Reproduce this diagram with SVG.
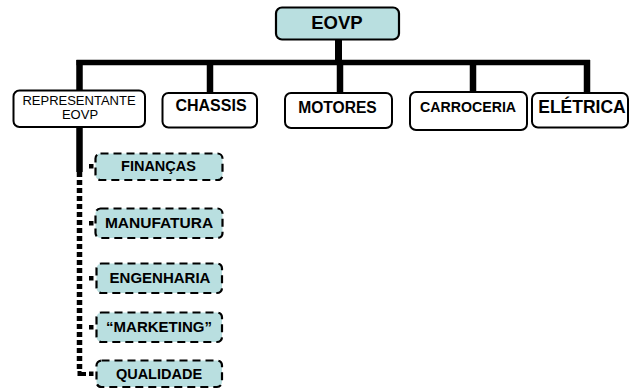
<svg xmlns="http://www.w3.org/2000/svg" width="640" height="392" viewBox="0 0 640 392">
<style>
.box{fill:#ffffff;stroke:#000;stroke-width:2}
.top{fill:#b9dfe0;stroke:#000;stroke-width:2.2}
.sub{fill:#b9dfe0;stroke:#000;stroke-width:2.2;stroke-dasharray:8 5}
.lbl{font-family:"Liberation Sans",Arial,sans-serif;font-weight:bold;fill:#000;text-anchor:middle}
.reg{font-family:"Liberation Sans",Arial,sans-serif;fill:#000;text-anchor:middle}
.ln{stroke:#000;fill:none}
</style>
<rect width="640" height="392" fill="#fff"/>
<g id="connectors">
<line class="ln" x1="338.5" y1="39" x2="338.5" y2="63" stroke-width="7"/>
<line class="ln" x1="76.5" y1="62.5" x2="590" y2="62.5" stroke-width="5.5"/>
<line class="ln" x1="79.5" y1="60" x2="79.5" y2="90" stroke-width="6.5"/>
<line class="ln" x1="210" y1="60" x2="210" y2="93" stroke-width="6.5"/>
<line class="ln" x1="340" y1="60" x2="340" y2="93" stroke-width="6.5"/>
<line class="ln" x1="473" y1="60" x2="473" y2="92" stroke-width="6.5"/>
<line class="ln" x1="587" y1="60" x2="587" y2="93" stroke-width="6.5"/>
<line class="ln" x1="79.5" y1="127" x2="79.5" y2="172" stroke-width="6.5"/>
<line class="ln" x1="79.5" y1="172" x2="79.5" y2="372" stroke-width="5.5" stroke-dasharray="5 3"/>
<path class="ln" d="M79.5 371 V374 H86" stroke-width="4"/>
<rect x="89" y="164" width="4.5" height="4.5"/>
<rect x="89" y="221" width="4.5" height="4.5"/>
<rect x="89" y="276" width="4.5" height="4.5"/>
<rect x="89" y="325" width="4.5" height="4.5"/>
<rect x="89" y="371.5" width="4.5" height="4.5"/>
</g>
<g id="n-eovp">
<rect class="top" x="276" y="7.5" width="123" height="32" rx="6"/>
<text class="lbl" x="337" y="28.5" font-size="18.5">EOVP</text>
</g>
<g id="n-representante">
<rect class="box" x="13.5" y="90.5" width="131.5" height="36.5" rx="6"/>
<text class="reg" x="79" y="105" font-size="13">REPRESENTANTE</text>
<text class="reg" x="80" y="119" font-size="13">EOVP</text>
</g>
<g id="n-chassis">
<rect class="box" x="162.5" y="93" width="94.5" height="34.5" rx="6"/>
<text class="lbl" x="211" y="111" font-size="16">CHASSIS</text>
</g>
<g id="n-motores">
<rect class="box" x="285" y="93" width="107" height="35" rx="6"/>
<text class="lbl" x="337.5" y="113" font-size="15.6">MOTORES</text>
</g>
<g id="n-carroceria">
<rect class="box" x="410" y="92" width="117" height="38" rx="6"/>
<text class="lbl" x="468" y="112" font-size="14.2">CARROCERIA</text>
</g>
<g id="n-eletrica">
<rect class="box" x="532" y="93" width="96" height="34.5" rx="6"/>
<text class="lbl" x="582" y="113" font-size="17.5">ELÉTRICA</text>
</g>
<g id="n-financas">
<rect class="sub" x="95.5" y="153.5" width="127" height="26.5" rx="5"/>
<text class="lbl" x="158.5" y="171" font-size="14.5">FINANÇAS</text>
</g>
<g id="n-manufatura">
<rect class="sub" x="95.5" y="208.5" width="127" height="29.5" rx="5"/>
<text class="lbl" x="159" y="227.5" font-size="15.5">MANUFATURA</text>
</g>
<g id="n-engenharia">
<rect class="sub" x="96.5" y="263.5" width="125.5" height="29.5" rx="5"/>
<text class="lbl" x="160" y="283" font-size="15">ENGENHARIA</text>
</g>
<g id="n-marketing">
<rect class="sub" x="96.5" y="312.5" width="125.5" height="29.5" rx="5"/>
<text class="lbl" x="159" y="332" font-size="15">“MARKETING”</text>
</g>
<g id="n-qualidade">
<rect class="sub" x="96.5" y="360.5" width="125.5" height="26.5" rx="5"/>
<text class="lbl" x="159" y="378.5" font-size="14.5">QUALIDADE</text>
</g>
</svg>
